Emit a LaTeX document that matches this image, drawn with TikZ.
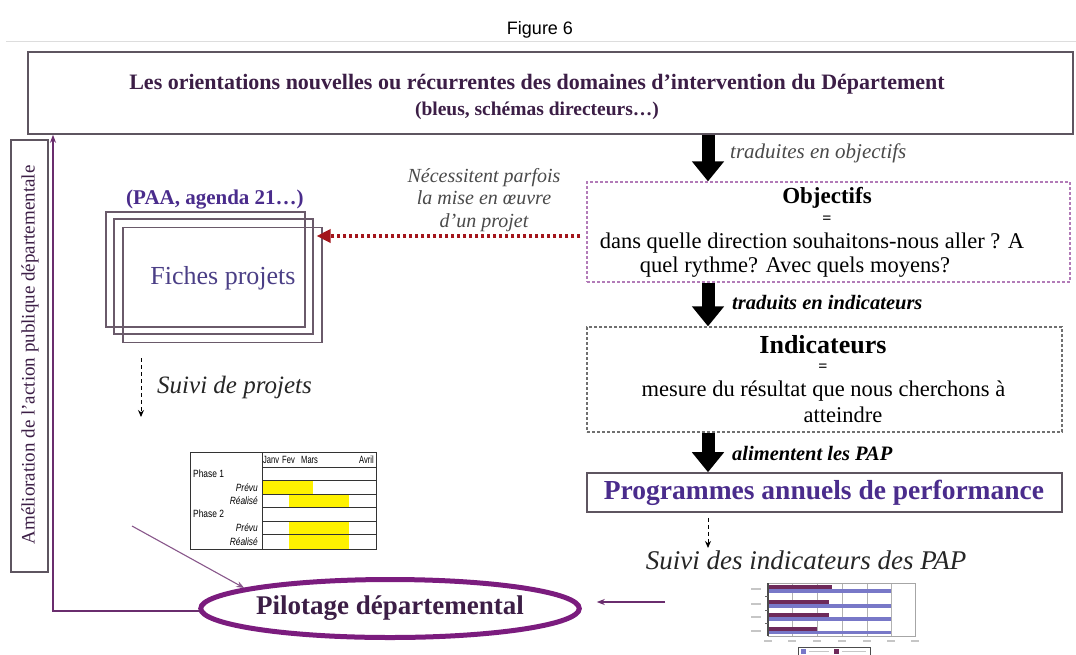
\documentclass[tikz,border=0pt]{standalone}
\usepackage{fontspec}
\setmainfont{Liberation Serif}
\newfontfamily\sansf{Liberation Sans}
\usetikzlibrary{arrows.meta,shapes.geometric}

\definecolor{darkplum}{HTML}{3C1E46}
\definecolor{indigo}{HTML}{4A2C8C}
\definecolor{fichetxt}{HTML}{4B3F86}
\definecolor{elpurple}{HTML}{7B1C7E}
\definecolor{boxgray}{HTML}{5E5560}
\definecolor{fichegray}{HTML}{6A5A6A}
\definecolor{objpink}{HTML}{B27BB8}
\definecolor{indgray}{HTML}{707070}
\definecolor{dotred}{HTML}{A3151B}
\definecolor{fbpurple}{HTML}{6A2D6E}
\definecolor{notegray}{HTML}{4A4A4A}
\definecolor{rulegray}{HTML}{DDDDDD}
\definecolor{barplum}{HTML}{6E2A5A}
\definecolor{barblue}{HTML}{7878C8}

\newcommand\fsz[1]{\fontsize{#1}{#1}\selectfont}

\tikzset{
  boxline/.style={draw=boxgray, line width=1.6pt, inner sep=0pt},
  fichebox/.style={draw=fichegray, line width=1.2pt, minimum width=199pt, minimum height=115pt, inner sep=0pt},
  toptxt/.style={inner sep=0pt, font=\bfseries\fsz{22}, text=darkplum},
  bodytxt/.style={inner sep=0pt, font=\fsz{22.5}, text=black},
  headtxt/.style={inner sep=0pt, font=\bfseries\fsz{23}, text=black},
  eqtxt/.style={inner sep=0pt, font=\bfseries\fsz{16}, text=black},
  flowlabel/.style={inner sep=0pt, anchor=west, font=\bfseries\itshape\fsz{20.5}, text=black},
  bigarrow/.style={line width=13pt, -{Triangle[width=31pt,length=20pt]}},
  fbarrow/.style={draw=fbpurple, line width=1.1pt, -{Stealth[length=8pt,width=6pt]}},
  suiviarrow/.style={draw=black, line width=1pt, dash pattern=on 4pt off 3pt, -{Stealth[length=7pt,width=6pt]}},
  ganttxt/.style={inner sep=0pt, font=\sansf\fsz{10.5}},
  blur/.style={draw=gray!45, line width=1.6pt},
}

\begin{document}
\begin{tikzpicture}[x=1pt,y=-1pt]
\useasboundingbox[fill=white] (0,0) rectangle (1076,654);

% header
\node[inner sep=0pt, font=\sansf\fsz{18}] (fig) at (540,30) {Figure 6};
\coordinate (ruleL) at (6,41);
\coordinate (ruleR) at (1076,41);
\draw[rulegray, line width=1pt] (ruleL) -- (ruleR);

% orientations box
\node[boxline, minimum width=1045pt, minimum height=82pt] (orient) at (550.5,93) {};
\node[toptxt] (orient1) at (537,84) {Les orientations nouvelles ou récurrentes des domaines d’intervention du Département};
\node[toptxt, font=\bfseries\fsz{19.5}] (orient2) at (537,111) {(bleus, schémas directeurs…)};

% vertical side box
\node[boxline, minimum width=37pt, minimum height=432pt] (amelio) at (29.5,356) {};
\node[inner sep=0pt, rotate=90, font=\fsz{19}, text=darkplum] (ameliotxt) at (30,355) {Amélioration de l’action publique départementale};

% project sheets
\node[toptxt, text=indigo, font=\bfseries\fsz{21}] (paa) at (215,200) {(PAA, agenda 21…)};
\node[fichebox] (fiche1) at (205.5,269.5) {};
\node[fichebox] (fiche2) at (213.5,276.5) {};
\node[fichebox] (fiche3) at (222.5,285) {};
\node[inner sep=0pt, font=\fsz{26}, text=fichetxt] (fichetxt) at (223,278) {Fiches projets};

\node[inner sep=0pt, align=center, font=\itshape\fontsize{20}{22.5}\selectfont, text=notegray] (note) at (484,200)
  {Nécessitent parfois\\la mise en œuvre\\d’un projet};

% project follow-up
\coordinate (sp1) at (141,358);
\coordinate (sp2) at (141,417);
\draw[suiviarrow] (sp1) -- (sp2);
\node[inner sep=0pt, anchor=west, font=\itshape\fsz{25}, text=black!85] (suivip) at (157,387) {Suivi de projets};

% gantt chart
\coordinate (gNW) at (190,452);
\coordinate (gSE) at (376,549);
\fill[yellow] (263,480) rectangle (313,494);
\fill[yellow] (289,494) rectangle (349,507);
\fill[yellow] (289,521) rectangle (349,534);
\fill[yellow] (289,534) rectangle (349,549);
\draw[black!80, line width=1pt] (gNW) rectangle (gSE);
\draw[black!80, line width=1pt] (262,452) -- (262,549);
\foreach \yy in {467,480,494,507,521,534} \draw[black!80, line width=1pt] (262,\yy) -- (376,\yy);
\node[ganttxt, anchor=west] (gjan) at (263,460) {\scalebox{0.72}[1]{Janv}};
\node[ganttxt, anchor=west] (gfev) at (282,460) {\scalebox{0.72}[1]{Fev}};
\node[ganttxt, anchor=west] (gmar) at (301,460) {\scalebox{0.72}[1]{Mars}};
\node[ganttxt, anchor=east] (gavr) at (374,460) {\scalebox{0.72}[1]{Avril}};
\node[ganttxt, anchor=west] (gp1) at (193,474) {\scalebox{0.8}[1]{Phase 1}};
\node[ganttxt, anchor=east, font=\sansf\itshape\fsz{10.5}] (gpr1) at (258,488) {\scalebox{0.8}[1]{Prévu}};
\node[ganttxt, anchor=east, font=\sansf\itshape\fsz{10.5}] (gre1) at (258,501) {\scalebox{0.8}[1]{Réalisé}};
\node[ganttxt, anchor=west] (gp2) at (193,514) {\scalebox{0.8}[1]{Phase 2}};
\node[ganttxt, anchor=east, font=\sansf\itshape\fsz{10.5}] (gpr2) at (258,528) {\scalebox{0.8}[1]{Prévu}};
\node[ganttxt, anchor=east, font=\sansf\itshape\fsz{10.5}] (gre2) at (258,542) {\scalebox{0.8}[1]{Réalisé}};

% steering ellipse
\node[ellipse, draw=elpurple, line width=5pt, minimum width=330pt, minimum height=58pt, inner sep=0pt,
      font=\bfseries\fsz{27}, text=darkplum] (pilot) at (390,608.5) {Pilotage départemental};

\coordinate (gstart) at (132,526);
\draw[fbarrow, draw=fbpurple!80] (gstart) -- (pilot.172);

% feedback loop
\coordinate (fb) at (200,611);
\coordinate (fbx) at (53,0);
\draw[fbarrow] (fb) -| (orient.south -| fbx);

% right column
\coordinate (ax) at (708,0);
\node[draw=objpink, dash pattern=on 3pt off 2pt, line width=1.3pt, minimum width=483pt, minimum height=100pt, inner sep=0pt] (obj) at (828.5,232) {};
\node[headtxt] (objt) at (827,198) {Objectifs};
\node[eqtxt] (objeq) at (827,220) {=};
\node[bodytxt] (obj1) at (812,243) {dans quelle direction souhaitons-nous aller ? A};
\node[bodytxt] (obj2) at (795,267) {quel rythme? Avec quels moyens?};

\node[draw=indgray, dash pattern=on 3pt off 2pt, line width=1.3pt, minimum width=475pt, minimum height=105pt, inner sep=0pt] (ind) at (824.5,379.5) {};
\node[headtxt, font=\bfseries\fsz{26}] (indt) at (823,345) {Indicateurs};
\node[eqtxt] (indeq) at (823,368) {=};
\node[bodytxt] (ind1) at (823.5,391) {mesure du résultat que nous cherchons à};
\node[bodytxt] (ind2) at (843,415) {atteindre};

\node[boxline, minimum width=475pt, minimum height=39pt] (pap) at (824.5,492.5) {};
\node[inner sep=0pt, font=\bfseries\fsz{27.5}, text=indigo] (papt) at (824,493) {Programmes annuels de performance};

\draw[bigarrow] (orient.south -| ax) -- (obj.north -| ax);
\draw[bigarrow] (obj.south -| ax) -- (ind.north -| ax);
\draw[bigarrow] (ind.south -| ax) -- (pap.north -| ax);

\node[inner sep=0pt, anchor=west, font=\itshape\fsz{21}, text=notegray] (lab1) at (730,153) {traduites en objectifs};
\node[flowlabel] (lab2) at (732,303) {traduits en indicateurs};
\node[flowlabel] (lab3) at (732,453) {alimentent les PAP};

% red dotted link to project sheets
\draw[draw=dotred, line width=3.5pt, dash pattern=on 3.5pt off 2.5pt, -{Triangle[length=14pt,width=13pt]}]
  ([xshift=-6pt,yshift=-4pt]obj.west) -- ([xshift=-6pt,yshift=-4pt]obj.west -| fiche3.east);

% PAP follow-up
\coordinate (sv) at (708,548);
\draw[suiviarrow] ([yshift=-5pt]pap.south -| ax) -- (sv);
\node[inner sep=0pt, font=\itshape\fsz{27}, text=black!85] (suivipap) at (806,560) {Suivi des indicateurs des PAP};

% bar chart
\coordinate (bNW) at (768,583);
\coordinate (bSE) at (915,636);
\foreach \xx in {792,817,842,867,891} \draw[gray!60, line width=0.8pt] (\xx,583) -- (\xx,636);
\fill[barplum] (768,585) rectangle (832,589);
\fill[barblue] (768,589) rectangle (891,593);
\fill[barplum] (768,600) rectangle (829,604);
\fill[barblue] (768,604) rectangle (891,608);
\fill[barplum] (768,613) rectangle (829,617);
\fill[barblue] (768,617) rectangle (891,621);
\fill[barplum] (768,627) rectangle (817,631);
\fill[barblue] (768,631) rectangle (891,634);
\draw[gray!70, line width=0.9pt] (bNW) rectangle (bSE);
\draw[black!70, line width=1.2pt] (768,583) -- (768,636);
\foreach \yy in {596,610,623} \draw[black!60, line width=0.8pt] (765,\yy) -- (768,\yy);
\foreach \yy in {589,604,617,631} \draw[blur] (751,\yy) -- (761,\yy);
\foreach \xx in {768,792,817,842,867,891,915} \draw[blur] (\xx-4,641) -- (\xx+4,641);
\coordinate (lgNW) at (798,647);
\coordinate (lgSE) at (870,657);
\draw[black!70, line width=0.9pt] (lgNW) rectangle (lgSE);
\fill[barblue] (801,649) rectangle (806,654);
\fill[barplum] (834,649) rectangle (839,654);
\draw[blur, line width=1.2pt] (809,651.5) -- (829,651.5);
\draw[blur, line width=1.2pt] (842,651.5) -- (866,651.5);

\coordinate (chartout) at (665,602);
\draw[fbarrow] (chartout) -- ([xshift=15pt,yshift=6.5pt]pilot.east);
\end{tikzpicture}
\end{document}
